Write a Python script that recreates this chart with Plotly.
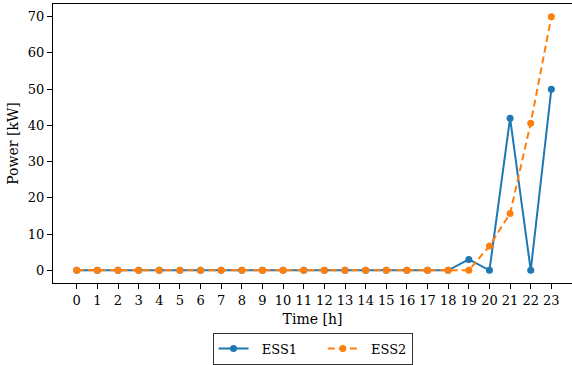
import plotly.graph_objects as go

hours = list(range(24))
ess1 = [0]*19 + [3.0, 0.0, 42.0, 0.0, 50.0]
ess2 = [0]*20 + [6.7, 15.7, 40.6, 70.0]
x_tick_labels = [str(h) for h in hours]
y_ticks = [0, 10, 20, 30, 40, 50, 60, 70]
series_names = ["ESS1", "ESS2"]

FONT = "DejaVu Serif"
NB = "\u00a0"

fig = go.Figure()
fig.add_trace(go.Scatter(
    x=hours, y=ess1, name=NB*2 + series_names[0] + NB*5, mode="lines+markers",
    line=dict(color="#1f77b4", width=2),
    marker=dict(color="#1f77b4", size=7),
))
fig.add_trace(go.Scatter(
    x=hours, y=ess2, name=NB*2 + series_names[1], mode="lines+markers",
    line=dict(color="#ff7f0e", width=2, dash="7px,4px"),
    marker=dict(color="#ff7f0e", size=7),
))

fig.update_layout(
    width=572, height=365,
    margin=dict(l=53, r=0, t=4, b=82),
    paper_bgcolor="white", plot_bgcolor="white",
    font=dict(family=FONT, size=13, color="black"),
    showlegend=True,
    legend=dict(
        orientation="h", x=0.5, xanchor="center", y=-0.178, yanchor="top",
        bordercolor="#333333", borderwidth=1,
        font=dict(family=FONT, size=13),
        itemwidth=30,
        tracegroupgap=0,
    ),
    xaxis=dict(
        range=[-1.15, 24.0], tickmode="array", tickvals=hours, ticktext=x_tick_labels,
        showgrid=False, zeroline=False, showline=True, linecolor="black", linewidth=1,
        mirror=True, ticks="outside", ticklen=5, tickcolor="black", tickwidth=1,
        title=dict(text="Time [h]", standoff=7, font=dict(family=FONT, size=14)),
    ),
    yaxis=dict(
        range=[-3.5, 73.5], tickmode="array", tickvals=y_ticks,
        showgrid=False, zeroline=False, showline=True, linecolor="black", linewidth=1,
        ticks="outside", ticklen=5, tickcolor="black", tickwidth=1,
        title=dict(text="Power [kW]", standoff=5, font=dict(family=FONT, size=14)),
    ),
)

fig.write_html("out.html")
